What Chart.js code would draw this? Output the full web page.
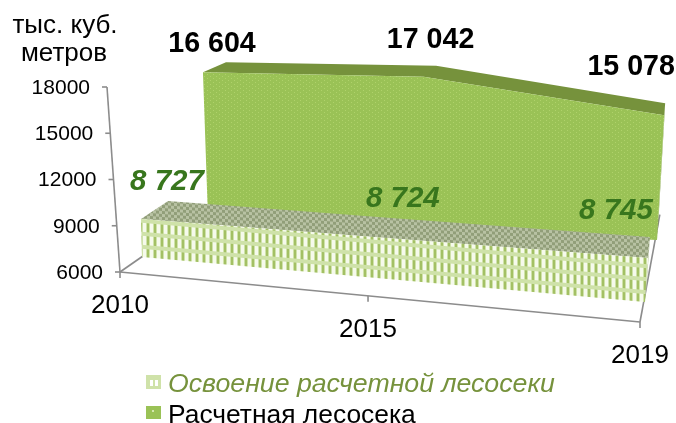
<!DOCTYPE html>
<html>
<head>
<meta charset="utf-8">
<style>
  html, body { margin: 0; padding: 0; background: #fff; overflow: hidden; }
  canvas { display: block; }
</style>
<script src="https://cdn.jsdelivr.net/npm/chart.js@4/dist/chart.umd.js"></script>
</head>
<body>
<canvas id="myChart" width="676" height="423"></canvas>
<script>
// data
const years = ['2010', '2015', '2019'];
const yTicks = [6000, 9000, 12000, 15000, 18000];
const osvoenie = [8727, 8724, 8745];
const raschetnaya = [16604, 17042, 15078];
const seriesNames = ['Освоение расчетной лесосеки', 'Расчетная лесосека'];
const unitLines = ['тыс. куб.', 'метров'];

// how the flat chart plane sits in the picture (screen corners, then the depth of the slab)
const PERSPECTIVE = 0.912;
const axisPlane = { bl: [120, 272], br: [640, 322], tl: [107, 87], tr: [674, 138] };
const frontPlanes = [
  { bl: [142, 257], br: [645, 302], tl: [137.6, 90], tr: [658, 110], dl: [27, -18], dr: [2, -21] },
  { bl: [208, 218], br: [657, 240], tl: [202.3, 53], tr: [666.5, 75], dl: [23, -10], dr: [1, -12] }
];
const labelOffsets = [
  [[26, -37], [20, -39], [-32, -47]],
  [[9, -28], [7, -37], [-33, -48]]
];

function makeTile(w, h, paint) {
  const c = document.createElement('canvas');
  c.width = w;
  c.height = h;
  paint(c.getContext('2d'));
  return c;
}

function shearedPattern(ctx, tile, slope) {
  const p = ctx.createPattern(tile, 'repeat');
  p.setTransform(new DOMMatrix([1, slope, 0, 1, 0, 0]));
  return p;
}

const lightFrontTile = makeTile(7, 13, g => {
  g.fillStyle = '#cfe2a9';
  g.fillRect(0, 0, 7, 13);
  g.fillStyle = '#a3c064';
  g.fillRect(0, 2, 2, 9);
  g.fillStyle = '#f6faec';
  g.fillRect(3, 2, 3, 9);
});
const lightTopTile = makeTile(6, 6, g => {
  g.fillStyle = '#b8c2a3';
  g.fillRect(0, 0, 6, 6);
  g.fillStyle = '#919e79';
  g.fillRect(0, 0, 3, 3);
  g.fillRect(3, 3, 3, 3);
});
const greenFrontTile = makeTile(6, 4, g => {
  g.fillStyle = '#9ac256';
  g.fillRect(0, 0, 6, 4);
  g.fillStyle = '#afd26a';
  g.fillRect(0, 0, 1, 1);
  g.fillRect(3, 2, 1, 1);
});

function lerp(a, b, t) {
  return a + (b - a) * t;
}

// scale pixels -> picture pixels, depth 0 is the front of the slab and 1 the back
function project(chart, plane, px, py, depth) {
  const xs = chart.scales.x, ys = chart.scales.y;
  const raw = (px - xs.left) / xs.width;
  const u = raw * PERSPECTIVE / (1 + (PERSPECTIVE - 1) * raw);
  const v = (ys.bottom - py) / ys.height;
  const leftX = lerp(plane.bl[0], plane.tl[0], v), leftY = lerp(plane.bl[1], plane.tl[1], v);
  const rightX = lerp(plane.br[0], plane.tr[0], v), rightY = lerp(plane.br[1], plane.tr[1], v);
  let sx = lerp(leftX, rightX, u), sy = lerp(leftY, rightY, u);
  if (depth && plane.dl) {
    sx += lerp(plane.dl[0], plane.dr[0], u) * depth;
    sy += lerp(plane.dl[1], plane.dr[1], u) * depth;
  }
  return [sx, sy];
}

function poly(ctx, pts, fill) {
  ctx.beginPath();
  pts.forEach((p, i) => i ? ctx.lineTo(p[0], p[1]) : ctx.moveTo(p[0], p[1]));
  ctx.closePath();
  ctx.fillStyle = fill;
  ctx.fill();
}

// line controller whose area is drawn as a slab standing in the 3d box
class Area3DController extends Chart.LineController {
  draw() {
    const chart = this.chart, ctx = chart.ctx;
    const meta = this.getMeta();
    const ds = this.getDataset();
    const plane = frontPlanes[this.index];
    const base = chart.scales.y.getPixelForValue(chart.scales.y.min);
    const pts = meta.data;
    const last = pts[pts.length - 1];

    const front = pts.map(p => project(chart, plane, p.x, p.y, 0));
    const back = pts.map(p => project(chart, plane, p.x, p.y, 1));

    ctx.save();
    poly(ctx, [project(chart, plane, last.x, base, 0), project(chart, plane, last.x, base, 1),
      back[back.length - 1], front[front.length - 1]], ds.sideColor);
    poly(ctx, front.concat(back.slice().reverse()), ds.topFill(ctx));
    poly(ctx, [project(chart, plane, pts[0].x, base, 0)].concat(front,
      [project(chart, plane, last.x, base, 0)]), ds.frontFill(ctx));
    ctx.restore();
  }
}
Area3DController.id = 'area3d';
Area3DController.defaults = Chart.LineController.defaults;
Chart.register(Area3DController);

const GREY = '#8c8c8c';
const FONT = '"Liberation Sans", Arial, sans-serif';

const boxPlugin = {
  id: 'box',
  beforeDatasetsDraw(chart) {
    const ctx = chart.ctx, xs = chart.scales.x, ys = chart.scales.y;
    const base = ys.getPixelForValue(ys.min), topY = ys.getPixelForValue(ys.max);
    const at = (px, py) => project(chart, axisPlane, px, py, 0);
    const seg = (a, b) => {
      ctx.beginPath();
      ctx.moveTo(a[0], a[1]);
      ctx.lineTo(b[0], b[1]);
      ctx.stroke();
    };
    ctx.save();
    ctx.strokeStyle = GREY;
    ctx.lineWidth = 1.6;
    const o = at(xs.left, base), e = at(xs.right, base);
    seg(at(xs.left, topY), o);
    seg(o, e);
    seg(o, [o[0] + 23, o[1] - 16]);
    seg(e, at(xs.right, ys.getPixelForValue(13000)));

    ctx.fillStyle = '#000';
    ys.ticks.forEach(t => {
      const p = at(xs.left, ys.getPixelForValue(t.value));
      seg(p, [p[0] - 5, p[1]]);
      ctx.font = '21px ' + FONT;
      ctx.textAlign = 'right';
      ctx.textBaseline = 'middle';
      ctx.fillText(String(t.value), p[0] - 17, p[1] + 1);
    });
    years.forEach((label, i) => {
      const p = at(xs.getPixelForValue(i), base);
      seg(p, [p[0], p[1] + 6]);
      ctx.font = '26px ' + FONT;
      ctx.textAlign = 'center';
      ctx.textBaseline = 'middle';
      ctx.fillText(label, p[0], p[1] + 34);
    });
    ctx.restore();
  },
  afterDatasetsDraw(chart) {
    const ctx = chart.ctx;
    ctx.save();
    ctx.textAlign = 'center';
    ctx.textBaseline = 'middle';
    chart.data.datasets.forEach((ds, d) => {
      chart.getDatasetMeta(d).data.forEach((pt, i) => {
        const p = project(chart, frontPlanes[d], pt.x, pt.y, 0);
        const text = String(ds.data[i]).replace(/(\d)(\d{3})$/, '$1 $2');
        ctx.font = ds.labelFont;
        ctx.fillStyle = ds.labelColor;
        ctx.fillText(text, p[0] + labelOffsets[d][i][0], p[1] + labelOffsets[d][i][1]);
      });
    });

    // unit caption
    ctx.fillStyle = '#000';
    ctx.font = '26px ' + FONT;
    ctx.fillText(unitLines[0], 65, 26);
    ctx.fillText(unitLines[1], 64, 54);

    // legend
    ctx.textAlign = 'left';
    ctx.textBaseline = 'alphabetic';
    ctx.fillStyle = '#cfe2a9';
    ctx.fillRect(146, 375, 15, 14);
    ctx.fillStyle = '#fff';
    ctx.fillRect(150, 380, 3, 6);
    ctx.fillRect(155, 380, 3, 6);
    ctx.fillStyle = '#9ac256';
    ctx.fillRect(146, 406, 15, 13);
    ctx.fillStyle = '#d5e8ae';
    ctx.fillRect(152, 410, 2, 2);
    ctx.font = 'italic 26.7px ' + FONT;
    ctx.fillStyle = '#76923c';
    ctx.fillText(seriesNames[0], 168, 392);
    ctx.font = '26.4px ' + FONT;
    ctx.fillStyle = '#000';
    ctx.fillText(seriesNames[1], 168, 423);
    ctx.restore();
  }
};

const ctx = document.getElementById('myChart').getContext('2d');
const myChart = new Chart(ctx, {
  type: 'area3d',
  data: {
    labels: years,
    datasets: [
      {
        label: seriesNames[0],
        data: osvoenie,
        sideColor: '#bcc6a6',
        topFill: c => shearedPattern(c, lightTopTile, 0.08),
        frontFill: c => shearedPattern(c, lightFrontTile, 0.09),
        labelFont: 'italic bold 29.5px ' + FONT,
        labelColor: '#38761d'
      },
      {
        label: seriesNames[1],
        data: raschetnaya,
        sideColor: '#76923c',
        topFill: () => '#76923c',
        frontFill: c => shearedPattern(c, greenFrontTile, 0),
        labelFont: 'bold 28.6px ' + FONT,
        labelColor: '#000'
      }
    ]
  },
  options: {
    responsive: false,
    animation: false,
    plugins: { legend: { display: false }, tooltip: { enabled: false } },
    scales: {
      x: { display: false, offset: false },
      y: {
        display: false,
        min: yTicks[0],
        max: yTicks[yTicks.length - 1],
        ticks: { stepSize: yTicks[1] - yTicks[0] }
      }
    }
  },
  plugins: [boxPlugin]
});
</script>
</body>
</html>
